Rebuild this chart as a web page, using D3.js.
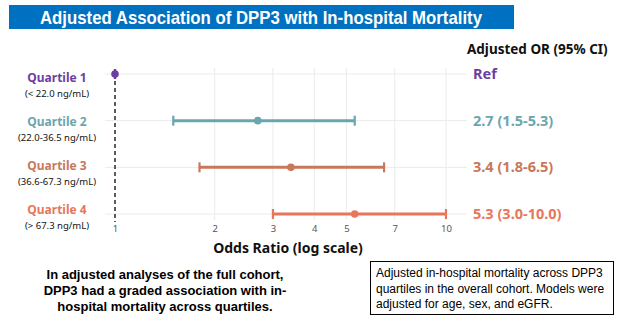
<!DOCTYPE html>
<html><head><meta charset="utf-8">
<script src="https://cdn.jsdelivr.net/npm/d3@7"></script>
<style>body{margin:0;background:#fff}svg{display:block}</style>
</head><body>
<svg id="c" width="622" height="334"></svg>
<script>
const categories = ["Quartile 1","Quartile 2","Quartile 3","Quartile 4"];
const ranges = ["(< 22.0 ng/mL)","(22.0-36.5 ng/mL)","(36.6-67.3 ng/mL)","(> 67.3 ng/mL)"];
const orValues = [1, 2.7, 3.4, 5.3];
const ciLow = [1, 1.5, 1.8, 3.0];
const ciHigh = [1, 5.3, 6.5, 10.0];
const orLabels = ["Ref","2.7 (1.5-5.3)","3.4 (1.8-6.5)","5.3 (3.0-10.0)"];
const colors = ["#6B3FA0","#6BA6AE","#C9785A","#E8775A"];
const tickValues = [1,2,3,4,5,7,10];

const svg = d3.select("#c");
const plotFont = "'Noto Sans', 'Open Sans', sans-serif";
const arial = "'Liberation Sans', Arial, sans-serif";

// Title bar
svg.append("rect").attr("x",9).attr("y",5).attr("width",505).attr("height",24).attr("fill","#0070C0");
svg.append("text").attr("x",40).attr("y",23.5)
  .attr("font-family",arial).attr("font-weight","bold").attr("font-size",19).attr("fill","#fff")
  .attr("textLength",442).attr("lengthAdjust","spacingAndGlyphs")
  .text("Adjusted Association of DPP3 with In-hospital Mortality");

const x = d3.scaleLog().domain([1,10]).range([115,446]);
const y = d3.scalePoint().domain(categories).range([74,214]);
const yLab = d3.scalePoint().domain(categories).range([79,211]);

// grid
const g = svg.append("g");
g.selectAll("line.v").data(tickValues.slice(1)).join("line")
  .attr("x1",d=>x(d)).attr("x2",d=>x(d)).attr("y1",68).attr("y2",220)
  .attr("stroke","#EBEBEB").attr("stroke-width",1);
g.selectAll("line.h").data(categories).join("line")
  .attr("x1",105).attr("x2",467).attr("y1",d=>y(d)).attr("y2",d=>y(d))
  .attr("stroke","#EBEBEB").attr("stroke-width",1);

// axis
const axis = d3.axisBottom(x).tickValues(tickValues).tickFormat(d3.format("d")).tickSize(0).tickPadding(0);
const ag = svg.append("g").attr("transform","translate(0,223)").call(axis);
ag.select(".domain").remove();
ag.selectAll("text").attr("font-family",plotFont).attr("font-size",9.5).attr("fill","#555").attr("dy","0.9em");

svg.append("text").attr("x",288).attr("y",253).attr("text-anchor","middle")
  .attr("font-family",plotFont).attr("font-weight","bold").attr("font-size",14).attr("fill","#111")
  .text("Odds Ratio (log scale)");

// reference dashed line
svg.append("line").attr("x1",x(1)).attr("x2",x(1)).attr("y1",74).attr("y2",222)
  .attr("stroke","#333").attr("stroke-width",1.6).attr("stroke-dasharray","4,3");

// CIs
const rows = categories.map((c,i)=>({c,i,or:orValues[i],lo:ciLow[i],hi:ciHigh[i],col:colors[i]}));
svg.selectAll("line.ci").data(rows).join("line")
  .attr("x1",d=>x(d.lo)).attr("x2",d=>x(d.hi)).attr("y1",d=>y(d.c)).attr("y2",d=>y(d.c))
  .attr("stroke",d=>d.col).attr("stroke-width",3);
["lo","hi"].forEach(k=>{
  svg.selectAll("line.cap"+k).data(rows).join("line")
    .attr("x1",d=>x(d[k])).attr("x2",d=>x(d[k])).attr("y1",d=>y(d.c)-5).attr("y2",d=>y(d.c)+5)
    .attr("stroke",d=>d.col).attr("stroke-width",2.2);
});
svg.selectAll("circle.pt").data(rows).join("circle")
  .attr("cx",d=>x(d.or)).attr("cy",d=>y(d.c)).attr("r",3.8).attr("fill",d=>d.col);

// left labels
svg.selectAll("text.q").data(rows).join("text")
  .attr("x",57).attr("y",d=>yLab(d.c)-1).attr("text-anchor","middle").attr("dy","0.35em")
  .attr("font-family",plotFont).attr("font-weight","bold").attr("font-size",12).attr("fill",d=>d.col)
  .text(d=>d.c);
svg.selectAll("text.r").data(rows).join("text")
  .attr("x",57).attr("y",d=>yLab(d.c)+14.2).attr("text-anchor","middle").attr("dy","0.35em")
  .attr("font-family",plotFont).attr("font-size",9.5).attr("fill","#111")
  .text((d)=>ranges[d.i]);

// right labels
svg.append("text").attr("x",467).attr("y",54).attr("font-family",plotFont).attr("font-weight","bold")
  .attr("font-size",13.5).attr("fill","#111").text("Adjusted OR (95% CI)");
svg.selectAll("text.or").data(rows).join("text")
  .attr("x",473).attr("y",d=>y(d.c)).attr("dy","0.35em")
  .attr("font-family",plotFont).attr("font-weight","bold").attr("font-size",14.5).attr("fill",d=>d.col)
  .text(d=>orLabels[d.i]);

// bottom-left text
const bl = ["In adjusted analyses of the full cohort,","DPP3 had a graded association with in-","hospital mortality across quartiles."];
svg.selectAll("text.bl").data(bl).join("text")
  .attr("x",165).attr("y",(d,i)=>279+i*16).attr("text-anchor","middle")
  .attr("font-family",arial).attr("font-weight","bold").attr("font-size",13).attr("fill","#000")
  .text(d=>d);

// box
svg.append("rect").attr("x",370.5).attr("y",261.5).attr("width",243).attr("height",53)
  .attr("fill","#fff").attr("stroke","#000").attr("stroke-width",1);
const br = ["Adjusted in-hospital mortality across DPP3","quartiles in the overall cohort. Models were","adjusted for age, sex, and eGFR."];
svg.selectAll("text.br").data(br).join("text")
  .attr("x",376).attr("y",(d,i)=>277+i*15.5)
  .attr("font-family",arial).attr("font-size",12).attr("fill","#000")
  .text(d=>d);
</script>
</body></html>
